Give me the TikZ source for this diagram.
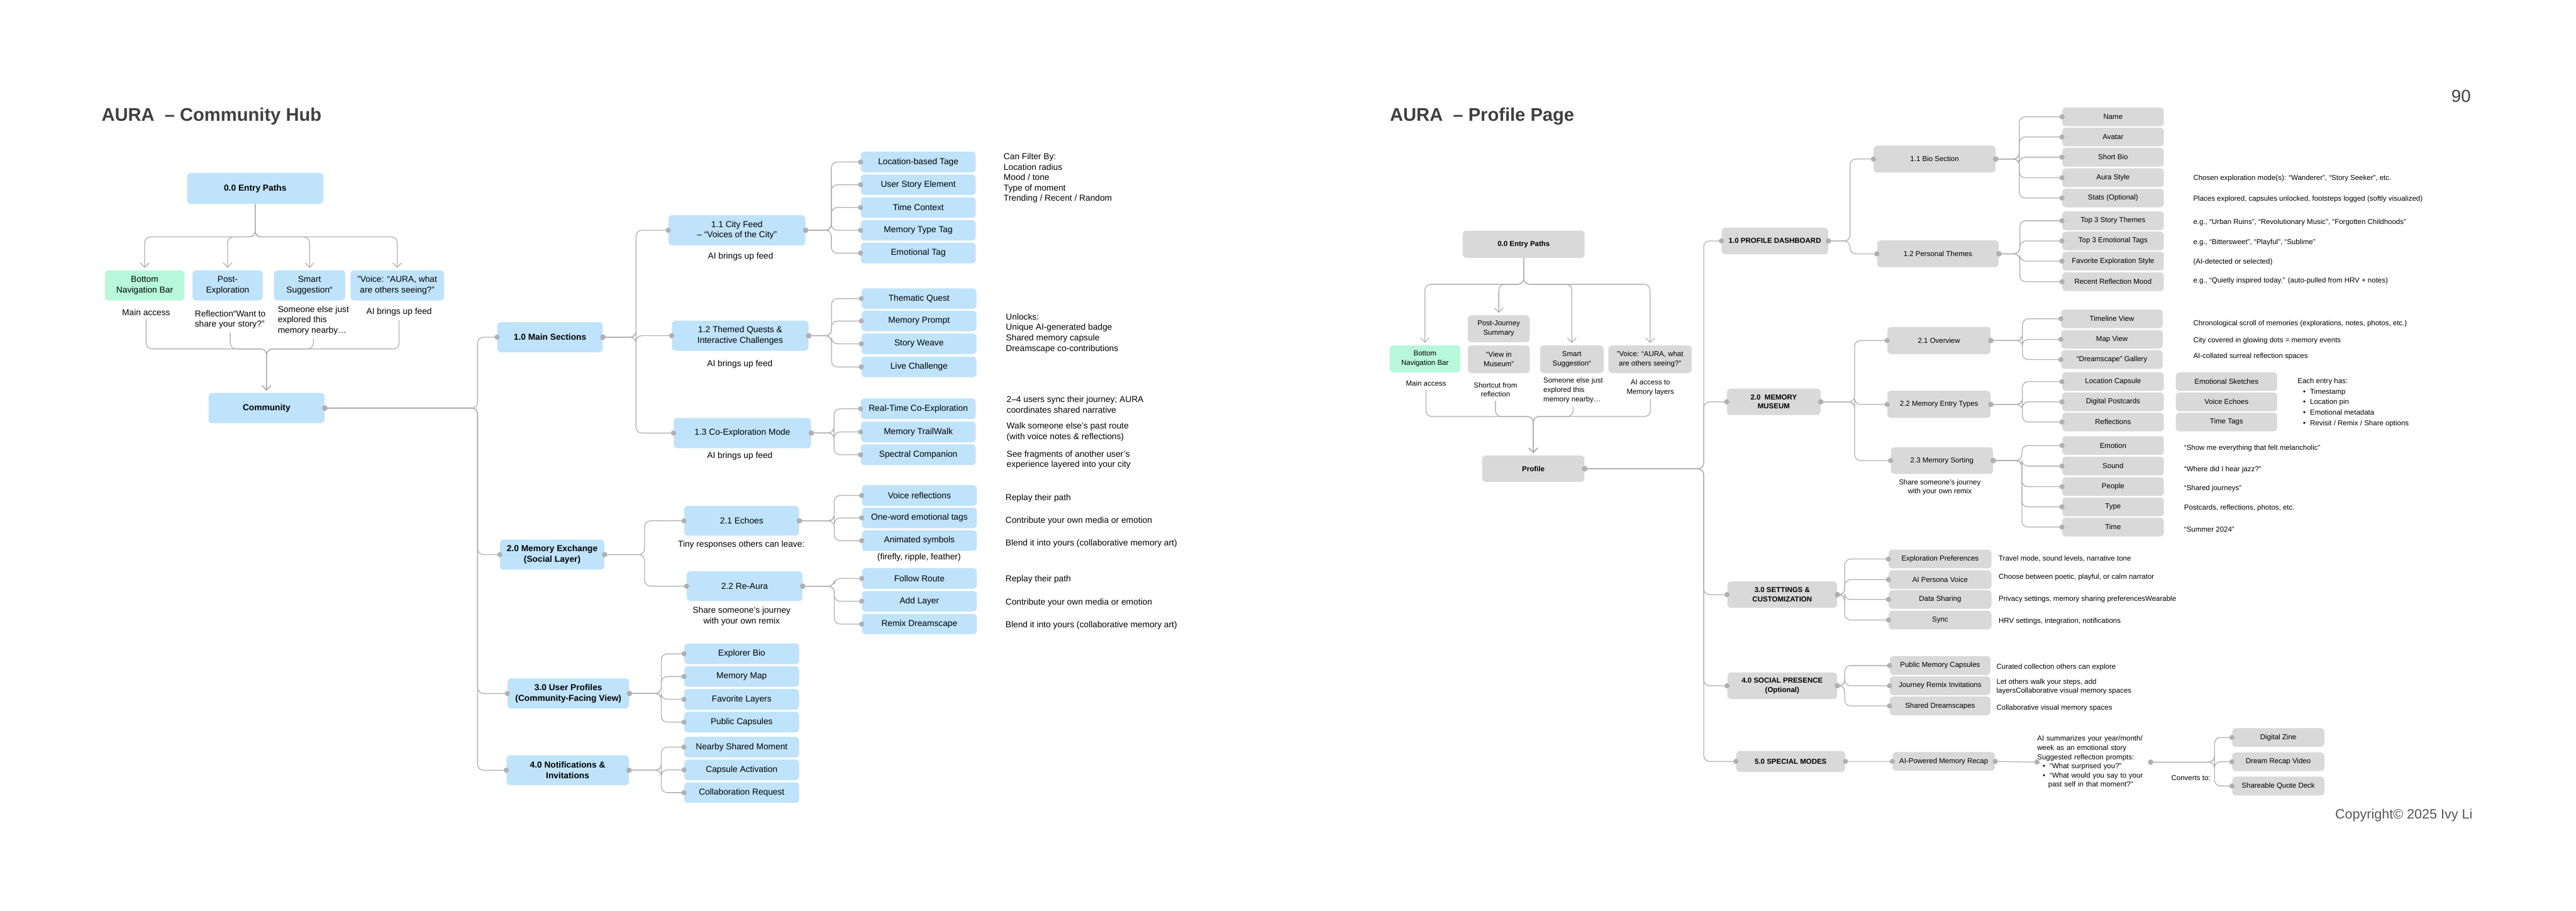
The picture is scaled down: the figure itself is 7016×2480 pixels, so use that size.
\documentclass[tikz,border=0pt]{standalone}
\usepackage{fontspec}
\setmainfont{Liberation Sans}
\usetikzlibrary{arrows.meta}
\definecolor{cblue}{HTML}{BFE3FB}
\definecolor{cgreen}{HTML}{B7F7DB}
\definecolor{cgray}{HTML}{D9D9D9}
\definecolor{cline}{HTML}{B0B0B0}
\definecolor{ctitle}{HTML}{3F3F3F}
\definecolor{ccopy}{HTML}{555555}
\begin{document}
\begin{tikzpicture}[x=.1mm,y=-.1mm,
  box/.style={rounded corners=1mm,align=center,inner sep=.5mm},
  fl/.style={font=\fontsize{6.7}{8.1}\selectfont},
  fr/.style={font=\fontsize{5.6}{7.1}\selectfont},
  lbox/.style={box,fill=cblue,fl},
  lhead/.style={box,fill=cblue,font=\fontsize{6.7}{8.1}\selectfont\bfseries,minimum height=8.2mm},
  lleaf/.style={lbox,minimum width=31.3mm,minimum height=5.6mm},
  gbox/.style={box,fill=cgray,fr},
  ghead/.style={box,fill=cgray,font=\fontsize{5.6}{7.1}\selectfont\bfseries,minimum height=7.2mm},
  gleaf/.style={gbox,minimum width=27.7mm,minimum height=5.1mm},
  note/.style={fl,inner sep=0,align=left,anchor=west},
  cnote/.style={fl,inner sep=0,align=center},
  rnote/.style={fr,inner sep=0,align=left,anchor=west},
  rcnote/.style={fr,inner sep=0,align=center},
  title/.style={anchor=base west,inner sep=0,text=ctitle,font=\fontsize{14.2}{17}\selectfont\bfseries},
  link/.style={draw=cline,line width=.22mm,rounded corners=1.6mm,
    arrows={Circle[length=1.4mm]-Circle[length=1.4mm]},shorten <=-.7mm,shorten >=-.7mm},
  flow/.style={draw=cline,line width=.22mm,rounded corners=1.6mm,
    arrows={-Straight Barb[length=1.2mm,width=2.4mm]},shorten >=.6mm}]
\useasboundingbox (0,0) rectangle (7016,2480);

% ---------- Community Hub ----------
\node[title] (titleL) at (276,329) {AURA\ \ – Community Hub};
\node[lhead,minimum width=37.1mm,minimum height=8.4mm] (entryL) at (695,513) {0.0 Entry Paths};
\node[lbox,fill=cgreen,minimum width=21.6mm,minimum height=8.2mm] (navL) at (394,777) {Bottom\\Navigation Bar};
\node[lbox,minimum width=19.1mm,minimum height=8.2mm] (postL) at (620,777) {Post-\\Exploration};
\node[lbox,minimum width=19.4mm,minimum height=8.2mm] (smartL) at (843,777) {Smart\\Suggestion“};
\node[lbox,minimum width=25.5mm,minimum height=8.2mm] (voiceL) at (1082,777) {”Voice: “AURA, what\\are others seeing?”};
\node[cnote] (navLt) at (398,850) {Main access};
\node[note] (postLt) at (530,870) {Reflection“Want to\\share your story?”};
\node[note] (smartLt) at (756,872) {Someone else just\\explored this\\memory nearby…};
\node[cnote] (voiceLt) at (1087,850) {AI brings up feed};
\node[lhead,minimum width=31.6mm] (commL) at (726,1111) {Community};
\coordinate (splitL) at (695,645);
\coordinate (mergeL) at (726,950);
\foreach \n in {navL,postL,smartL,voiceL} \draw[flow] (entryL.south) -- (splitL) -| (\n.north);
\foreach \n in {navLt,postLt,smartLt,voiceLt} \draw[flow,shorten <=1mm] (\n.south) |- (mergeL) -- (commL.north);

\node[lhead,minimum width=28.7mm] (main) at (1498,918) {1.0 Main Sections};
\node[lhead,minimum width=28.4mm] (memex) at (1504,1510) {2.0 Memory Exchange\\(Social Layer)};
\node[lhead,minimum width=33.1mm] (users) at (1548,1888) {3.0 User Profiles\\(Community-Facing View)};
\node[lhead,minimum width=33.3mm] (notif) at (1546,2097) {4.0 Notifications \&\\Invitations};
\foreach \n in {main,memex,users,notif} \draw[link] (commL.east) -- ++(416,0) |- (\n.west);

\node[lbox,minimum width=37.3mm,minimum height=8.2mm] (cf) at (2007,627) {1.1 City Feed\\– “Voices of the City”};
\node[cnote] (cft) at (2017,699) {AI brings up feed};
\node[lbox,minimum width=37.2mm,minimum height=8.2mm] (tq) at (2016,914) {1.2 Themed Quests \&\\Interactive Challenges};
\node[cnote] (tqt) at (2015,991) {AI brings up feed};
\node[lbox,minimum width=37.4mm,minimum height=8.2mm] (co) at (2022,1179) {1.3 Co-Exploration Mode};
\node[cnote] (cot) at (2015,1241) {AI brings up feed};
\foreach \n in {cf,tq,co} \draw[link] (main.east) -- ++(90,0) |- (\n.west);

\foreach \y/\t [count=\i] in {441/Location-based Tage,503/User Story Element,565/Time Context,627/Memory Type Tag,689/Emotional Tag}
  {\node[lleaf] (cf\i) at (2501,\y) {\t}; \draw[link] (cf.east) -- ++(70,0) |- (cf\i.west);}
\foreach \y/\t [count=\i] in {813/Thematic Quest,874/Memory Prompt,936/Story Weave,999/Live Challenge}
  {\node[lleaf] (tq\i) at (2503,\y) {\t}; \draw[link] (tq.east) -- ++(62,0) |- (tq\i.west);}
\foreach \y/\t [count=\i] in {1113/Real-Time Co-Exploration,1176/Memory TrailWalk,1238/Spectral Companion}
  {\node[lleaf] (co\i) at (2501,\y) {\t}; \draw[link] (co.east) -- ++(62,0) |- (co\i.west);}

\node[note] (cfn) at (2733,485) {Can Filter By:\\Location radius\\Mood / tone\\Type of moment\\Trending / Recent / Random};
\node[note] (tqn) at (2739,907) {Unlocks:\\Unique AI-generated badge\\Shared memory capsule\\Dreamscape co-contributions};
\node[note] (con1) at (2741,1101) {2–4 users sync their journey; AURA\\coordinates shared narrative};
\node[note] (con2) at (2741,1176) {Walk someone else’s past route\\(with voice notes \& reflections)};
\node[note] (con3) at (2741,1252) {See fragments of another user’s\\experience layered into your city};

\node[lbox,minimum width=31.3mm,minimum height=8.1mm] (echo) at (2020,1418) {2.1 Echoes};
\node[cnote] (echot) at (2019,1483) {Tiny responses others can leave:};
\node[lbox,minimum width=31.5mm,minimum height=8.1mm] (reaura) at (2028,1596) {2.2 Re-Aura};
\node[cnote] (reaurat) at (2020,1678) {Share someone’s journey\\with your own remix};
\foreach \n in {echo,reaura} \draw[link] (memex.east) -- ++(109,0) |- (\n.west);
\foreach \y/\t [count=\i] in {1349/Voice reflections,1410/One-word emotional tags,1472/Animated symbols}
  {\node[lleaf] (echo\i) at (2504,\y) {\t}; \draw[link] (echo.east) -- ++(95,0) |- (echo\i.west);}
\node[cnote] (echo3t) at (2503,1517) {(firefly, ripple, feather)};
\foreach \y/\t [count=\i] in {1575/Follow Route,1637/Add Layer,1699/Remix Dreamscape}
  {\node[lleaf] (reaura\i) at (2504,\y) {\t}; \draw[link] (reaura.east) -- ++(86,0) |- (reaura\i.west);}
\foreach \y/\t [count=\i] in {1357/Replay their path,1418/Contribute your own media or emotion,1479/Blend it into yours (collaborative memory art),1578/Replay their path,1641/Contribute your own media or emotion,1702/Blend it into yours (collaborative memory art)}
  \node[note] (exn\i) at (2738,\y) {\t};

\foreach \y/\t [count=\i] in {1780/Explorer Bio,1842/Memory Map,1904/Favorite Layers,1966/Public Capsules}
  {\node[lleaf] (users\i) at (2020,\y) {\t}; \draw[link] (users.east) -- ++(87,0) |- (users\i.west);}
\foreach \y/\t [count=\i] in {2034/Nearby Shared Moment,2096/Capsule Activation,2158/Collaboration Request}
  {\node[lleaf] (notif\i) at (2020,\y) {\t}; \draw[link] (notif.east) -- ++(88,0) |- (notif\i.west);}

% ---------- Profile Page ----------
\node[title] (titleR) at (3785,329) {AURA\ \ – Profile Page};
\node[anchor=center,inner sep=0,text=ctitle,font=\fontsize{13.5}{16}\selectfont] (pagenum) at (6703,262) {90};
\node[ghead,minimum width=33.2mm,minimum height=7.4mm] (entryR) at (4150,665) {0.0 Entry Paths};
\node[gbox,fill=cgreen,minimum width=19.2mm,minimum height=7.4mm] (navR) at (3881,977) {Bottom\\Navigation Bar};
\node[gbox,minimum width=16.9mm,minimum height=7.3mm] (pjR) at (4082,895) {Post-Journey\\Summary};
\node[gbox,minimum width=16.9mm,minimum height=7.5mm] (museumR) at (4082,978) {“View in\\Museum”};
\node[gbox,minimum width=17.3mm,minimum height=7.5mm] (smartR) at (4281,978) {Smart\\Suggestion“};
\node[gbox,minimum width=22.7mm,minimum height=7.5mm] (voiceR) at (4494,978) {”Voice: “AURA, what\\are others seeing?”};
\node[rcnote] (navRt) at (3884,1044) {Main access};
\node[rcnote] (museumRt) at (4073,1061) {Shortcut from\\reflection};
\node[rnote] (smartRt) at (4203,1063) {Someone else just\\explored this\\memory nearby…};
\node[rcnote] (voiceRt) at (4495,1056) {AI access to\\Memory layers};
\node[ghead,minimum width=27.9mm] (profR) at (4176,1276) {Profile};
\coordinate (splitR) at (4150,774);
\coordinate (mergeR) at (4176,1134);
\foreach \n in {navR,pjR,smartR,voiceR} \draw[flow] (entryR.south) -- (splitR) -| (\n.north);
\foreach \n in {navRt,museumRt,smartRt,voiceRt} \draw[flow,shorten <=1mm] (\n.south) |- (mergeR) -- (profR.north);

\node[ghead,minimum width=29mm] (dash) at (4834,656) {1.0 PROFILE DASHBOARD};
\node[ghead,minimum width=25.5mm] (museum) at (4831,1094) {2.0\ \ MEMORY\\MUSEUM};
\node[ghead,minimum width=29.9mm] (settings) at (4854,1619) {3.0 SETTINGS \&\\CUSTOMIZATION};
\node[ghead,minimum width=29.9mm] (social) at (4854,1867) {4.0 SOCIAL PRESENCE\\(Optional)};
\node[ghead,minimum width=29.7mm,minimum height=5.7mm] (special) at (4877,2073) {5.0 SPECIAL MODES};
\foreach \n in {dash,museum,settings,social,special} \draw[link] (profR.east) -- ++(324,0) |- (\n.west);

\node[gbox,minimum width=33.2mm,minimum height=7.3mm] (bio) at (5269,433) {1.1 Bio Section};
\node[gbox,minimum width=33.1mm,minimum height=7.3mm] (themes) at (5278,691) {1.2 Personal Themes};
\foreach \n in {bio,themes} \draw[link] (dash.east) -- ++(59,0) |- (\n.west);
\foreach \y/\t [count=\i] in {318/Name,373/Avatar,428/Short Bio,484/Aura Style,539/Stats (Optional)}
  {\node[gleaf] (bio\i) at (5755,\y) {\t}; \draw[link] (bio.east) -- ++(64,0) |- (bio\i.west);}
\foreach \y/\t [count=\i] in {601/Top 3 Story Themes,656/Top 3 Emotional Tags,711/Favorite Exploration Style,767/Recent Reflection Mood}
  {\node[gleaf] (themes\i) at (5755,\y) {\t}; \draw[link] (themes.east) -- ++(57,0) |- (themes\i.west);}
\foreach \y/\t [count=\i] in {485/{Chosen exploration mode(s): “Wanderer”, “Story Seeker”, etc.},543/{Places explored, capsules unlocked, footsteps logged (softly visualized)},606/{e.g., “Urban Ruins”, “Revolutionary Music”, “Forgotten Childhoods”},661/{e.g., “Bittersweet”, “Playful”, “Sublime”},713/{(AI-detected or selected)},765/{e.g., “Quietly inspired today.” (auto-pulled from HRV + notes)}}
  \node[rnote] (dashn\i) at (5973,\y) {\t};

\node[gbox,minimum width=28.1mm,minimum height=7.4mm] (overview) at (5281,927) {2.1 Overview};
\node[gbox,minimum width=28.1mm,minimum height=7.4mm] (entry) at (5281,1101) {2.2 Memory Entry Types};
\node[gbox,minimum width=27.8mm,minimum height=7.3mm] (sorting) at (5289,1254) {2.3 Memory Sorting};
\node[rcnote] (sortingt) at (5283,1327) {Share someone’s journey\\with your own remix};
\foreach \n in {overview,entry,sorting} \draw[link] (museum.east) -- ++(92,0) |- (\n.west);
\foreach \y/\t [count=\i] in {868/Timeline View,924/Map View,979/“Dreamscape” Gallery}
  {\node[gleaf] (overview\i) at (5752,\y) {\t}; \draw[link] (overview.east) -- ++(86,0) |- (overview\i.west);}
\foreach \y/\t [count=\i] in {882/{Chronological scroll of memories (explorations, notes, photos, etc.)},928/{City covered in glowing dots = memory events},970/{AI-collated surreal reflection spaces}}
  \node[rnote] (overviewn\i) at (5973,\y) {\t};
\foreach \y/\t/\u [count=\i] in {1039/Location Capsule/Emotional Sketches,1094/Digital Postcards/Voice Echoes,1149/Reflections/Time Tags}
  {\node[gleaf] (entry\i) at (5755,\y) {\t}; \node[gleaf,minimum width=27.6mm] (entryb\i) at (6064,\y) {\u};
   \draw[link] (entry.east) -- ++(86,0) |- (entry\i.west);}
\node[rnote] (entryn) at (6257,1096) {Each entry has:\\[1pt]\hspace*{1.5mm}•\hspace{1.2mm}Timestamp\\[1pt]\hspace*{1.5mm}•\hspace{1.2mm}Location pin\\[1pt]\hspace*{1.5mm}•\hspace{1.2mm}Emotional metadata\\[1pt]\hspace*{1.5mm}•\hspace{1.2mm}Revisit / Remix / Share options};
\foreach \y/\t [count=\i] in {1213/Emotion,1269/Sound,1325/People,1380/Type,1435/Time}
  {\node[gleaf] (sorting\i) at (5755,\y) {\t}; \draw[link] (sorting.east) -- ++(78,0) |- (sorting\i.west);}
\foreach \y/\t [count=\i] in {1221/“Show me everything that felt melancholic”,1278/“Where did I hear jazz?”,1330/“Shared journeys”,1384/{Postcards, reflections, photos, etc.},1442/“Summer 2024”}
  \node[rnote] (sortingn\i) at (5948,\y) {\t};

\foreach \y/\t [count=\i] in {1522/Exploration Preferences,1578/AI Persona Voice,1632/Data Sharing,1688/Sync}
  {\node[gleaf,minimum width=28mm] (settings\i) at (5284,\y) {\t}; \draw[link] (settings.east) -- ++(20,0) |- (settings\i.west);}
\foreach \y/\t [count=\i] in {1521/{Travel mode, sound levels, narrative tone},1572/{Choose between poetic, playful, or calm narrator},1632/{Privacy settings, memory sharing preferencesWearable},1691/{HRV settings, integration, notifications}}
  \node[rnote] (settingsn\i) at (5443,\y) {\t};
\foreach \y/\t [count=\i] in {1812/Public Memory Capsules,1867/Journey Remix Invitations,1922/Shared Dreamscapes}
  {\node[gleaf,minimum width=27.4mm] (social\i) at (5284,\y) {\t}; \draw[link] (social.east) -- ++(20,0) |- (social\i.west);}
\node[rnote] (socialn1) at (5437,1817) {Curated collection others can explore};
\node[rnote] (socialn2) at (5437,1870) {Let others walk your steps, add\\layersCollaborative visual memory spaces};
\node[rnote] (socialn3) at (5437,1928) {Collaborative visual memory spaces};

\node[gleaf,minimum width=27.9mm] (recap) at (5294,2073) {AI-Powered Memory Recap};
\node[rnote,text width=30.8mm] (recapn) at (5548,2075) {AI summarizes your year/month/\\week as an emotional story\\Suggested reflection prompts:\\\hspace*{1.5mm}•\hspace{1.2mm}“What surprised you?”\\\hspace*{1.5mm}•\hspace{1.2mm}“What would you say to your\\\hspace*{3mm}past self in that moment?”};
\draw[link] (special.east) -- (recap.west);
\draw[link] (recap.east) -- (recapn.west);
\node[rcnote] (convt) at (5967,2118) {Converts to:};
\foreach \y/\t [count=\i] in {2008/Digital Zine,2074/Dream Recap Video,2140/Shareable Quote Deck}
  {\node[gleaf,minimum width=25.1mm] (conv\i) at (6205,\y) {\t}; \draw[link] (recapn.east) -- ++(174,0) |- (conv\i.west);}

\node[inner sep=0,text=ccopy,font=\fontsize{10.5}{12}\selectfont] (copy) at (6547,2219) {Copyright© 2025 Ivy Li};
\end{tikzpicture}
\end{document}
